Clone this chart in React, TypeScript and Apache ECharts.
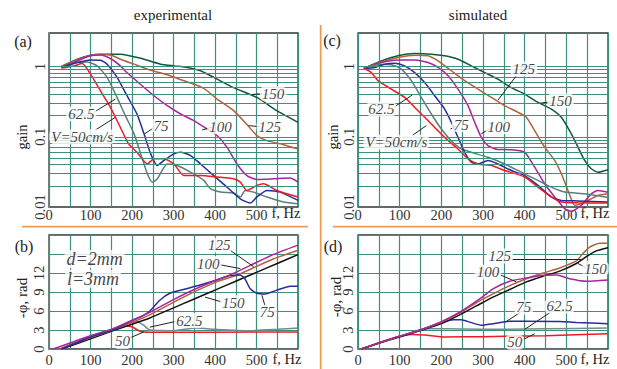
import React, { useEffect, useRef } from 'react';
import * as echarts from 'echarts';

const FONT = 'Liberation Serif';
const C_RED = '#ec1c24';
const C_BLUE = '#2a2a9c';
const C_MAG = '#a8259f';
const C_BROWN = '#b3613c';
const C_DGREEN = '#0d5a3c';
const C_GRAY = '#57807a';
const C_BLACK = '#111111';
const C_GRAY2 = '#6f8f89';
const GRID = '#3d9080';
const FRAME = '#2b3a37';
const ORANGE = '#f39c4d';

type P = [number, number];

// (a) experimental gain
const EXP_GAIN_150: P[] = [[30,1.0],[68,1.27],[100,1.45],[124,1.5],[172,1.5],[221,1.31],[269,1.08],[301,1.02],[333,0.97],[365,0.87],[397,0.7],[445,0.5],[501,0.363],[549,0.235],[600,0.16]];
const EXP_GAIN_125: P[] = [[30,1.0],[68,1.25],[100,1.43],[124,1.48],[150,1.45],[172,1.27],[205,1.08],[245,0.887],[285,0.762],[325,0.626],[365,0.515],[381,0.452],[405,0.344],[445,0.235],[477,0.149],[501,0.104],[525,0.088],[565,0.077],[600,0.067]];
const EXP_GAIN_100: P[] = [[30,0.97],[68,1.2],[100,1.42],[124,1.46],[150,1.28],[172,1.02],[188,0.82],[220,0.56],[253,0.384],[285,0.277],[317,0.211],[349,0.17],[381,0.129],[405,0.104],[429,0.071],[453,0.041],[477,0.028],[501,0.0247],[541,0.0252],[581,0.0258],[600,0.0226]];
const EXP_GAIN_75: P[] = [[30,0.97],[68,1.14],[100,1.24],[124,1.23],[140,1.08],[164,0.7],[188,0.384],[212,0.211],[229,0.11],[245,0.057],[261,0.039],[277,0.046],[301,0.057],[317,0.06],[341,0.054],[365,0.041],[397,0.028],[429,0.0192],[461,0.0131],[485,0.0114],[501,0.0139],[525,0.0172],[557,0.0163],[600,0.0124]];
const EXP_GAIN_62: P[] = [[30,0.97],[68,1.14],[92,1.16],[116,1.02],[140,0.7],[164,0.363],[184,0.2],[205,0.11],[221,0.057],[237,0.0297],[249,0.0226],[261,0.0252],[285,0.041],[309,0.039],[341,0.0313],[373,0.0239],[389,0.0182],[413,0.0163],[445,0.0158],[461,0.0139],[473,0.0172],[493,0.0163],[525,0.0139],[565,0.0118],[600,0.0111]];
const EXP_GAIN_50: P[] = [[30,0.95],[60,1.02],[80,1.1],[100,0.78],[124,0.45],[148,0.262],[168,0.152],[192,0.079],[212,0.06],[237,0.041],[253,0.0485],[277,0.0485],[301,0.041],[325,0.028],[365,0.028],[405,0.0267],[445,0.0252],[461,0.0226],[477,0.0172],[501,0.0203],[517,0.0214],[549,0.0172],[600,0.0139]];

// (c) simulated gain
const SIM_GAIN_150: P[] = [[14,0.94],[56,1.2],[96,1.42],[136,1.53],[176,1.5],[208,1.42],[240,1.27],[272,1.02],[304,0.82],[336,0.66],[368,0.5],[400,0.405],[432,0.308],[464,0.248],[488,0.189],[512,0.11],[528,0.071],[544,0.046],[560,0.035],[576,0.0313],[600,0.034]];
const SIM_GAIN_125: P[] = [[14,0.94],[56,1.16],[96,1.34],[136,1.45],[168,1.42],[192,1.2],[224,0.87],[256,0.63],[288,0.477],[320,0.363],[352,0.277],[384,0.223],[404,0.189],[424,0.122],[448,0.071],[472,0.046],[488,0.0297],[504,0.0172],[520,0.0106],[536,0.0111],[560,0.0131],[576,0.0146],[600,0.0154]];
const SIM_GAIN_100: P[] = [[14,0.94],[56,1.14],[96,1.24],[136,1.24],[168,1.14],[192,0.97],[216,0.74],[240,0.477],[264,0.277],[280,0.161],[296,0.098],[312,0.075],[336,0.0658],[368,0.0654],[400,0.06],[424,0.0369],[448,0.0214],[472,0.0139],[496,0.0095],[512,0.0087],[536,0.0106],[560,0.0154],[576,0.0172],[600,0.0162]];
const SIM_GAIN_75: P[] = [[14,0.94],[40,0.97],[64,1.08],[88,1.11],[112,1.02],[136,0.82],[160,0.59],[184,0.384],[208,0.248],[224,0.161],[240,0.098],[256,0.06],[272,0.0435],[288,0.041],[312,0.046],[336,0.041],[368,0.0331],[400,0.028],[432,0.0203],[464,0.0139],[488,0.0124],[528,0.0122],[600,0.0118]];
const SIM_GAIN_62: P[] = [[14,0.94],[56,1.08],[80,1.06],[104,0.92],[128,0.63],[152,0.363],[176,0.211],[200,0.129],[224,0.088],[248,0.067],[272,0.06],[312,0.051],[352,0.041],[392,0.0313],[432,0.0239],[464,0.0192],[496,0.0163],[544,0.0154],[600,0.0137]];
const SIM_GAIN_50: P[] = [[14,0.94],[32,0.82],[48,0.63],[80,0.477],[112,0.363],[144,0.235],[176,0.152],[208,0.098],[240,0.067],[264,0.0485],[288,0.041],[320,0.039],[352,0.0331],[400,0.0267],[432,0.0192],[464,0.0139],[488,0.0118],[528,0.0115],[600,0.0114]];

// (b) experimental phase
const EXP_PH_150: P[] = [[30,0],[100,1.6],[150,2.8],[200,3.9],[243,4.9],[300,6.5],[350,7.9],[400,9.3],[450,10.7],[500,12.1],[550,13.5],[600,14.9]];
const EXP_PH_125: P[] = [[25,0],[100,1.8],[150,2.9],[200,4.2],[243,5.4],[324,8.2],[404,10.6],[450,11.6],[485,12.6],[540,14.2],[600,15.6]];
const EXP_PH_100: P[] = [[10,0],[100,2.1],[150,3.1],[200,4.5],[243,5.8],[300,7.8],[350,9.4],[404,10.9],[436,11.7],[485,13.2],[540,14.9],[600,16.4]];
const EXP_PH_75: P[] = [[30,0],[100,1.9],[150,2.9],[200,4.5],[225,5.2],[243,6.0],[267,7.7],[291,8.8],[324,9.4],[364,10.1],[404,10.9],[436,11.6],[460,11.7],[472,11.1],[485,9.5],[501,8.8],[521,8.7],[549,9.3],[582,9.9],[600,9.9]];
const EXP_PH_62: P[] = [[30,0],[100,2.0],[150,3.1],[190,4.0],[211,4.4],[227,3.8],[243,3.0],[300,2.9],[355,3.3],[404,3.1],[485,2.9],[550,3.1],[600,3.3]];
const EXP_PH_50: P[] = [[30,0.1],[100,1.9],[150,2.9],[180,3.65],[200,3.5],[219,2.8],[243,2.65],[400,2.65],[600,2.7]];

// (d) simulated phase
const SIM_PH_150: P[] = [[8,0],[50,0.9],[100,1.9],[150,2.9],[200,4.0],[244,5.4],[284,6.8],[324,8.2],[364,9.4],[404,10.6],[444,11.5],[484,12.3],[524,13.5],[548,14.6],[572,15.5],[600,16.0]];
const SIM_PH_125: P[] = [[8,0],[50,0.95],[100,2.0],[150,3.0],[200,4.2],[244,5.7],[284,7.3],[324,8.7],[364,10.0],[404,11.1],[444,12.0],[484,12.8],[524,13.9],[540,15.1],[556,16.1],[580,16.7],[600,16.7]];
const SIM_PH_100: P[] = [[8,0],[50,0.95],[100,2.0],[150,3.0],[200,4.3],[244,5.8],[292,7.9],[324,9.5],[364,10.7],[404,11.2],[444,11.65],[476,11.7],[508,11.1],[548,10.7],[600,10.9]];
const SIM_PH_75: P[] = [[8,0],[50,0.95],[100,2.0],[150,3.0],[200,4.2],[230,4.6],[248,4.6],[270,4.2],[296,3.75],[324,4.0],[364,4.4],[404,4.4],[484,4.35],[524,4.2],[600,4.0]];
const SIM_PH_62: P[] = [[8,0],[50,0.95],[100,2.0],[140,2.9],[170,3.2],[250,3.15],[350,3.1],[450,3.2],[600,3.3]];
const SIM_PH_50: P[] = [[8,0],[50,1.0],[100,2.0],[128,2.3],[160,2.2],[208,1.9],[300,1.95],[352,2.0],[450,2.1],[600,2.4]];

const GAIN_GRID_VALUES = [0.02,0.03,0.04,0.05,0.06,0.07,0.08,0.09,0.1,0.2,0.3,0.4,0.5,0.6,0.7,0.8,0.9,1];

type Ann = { text: string; at: P; from?: P; to?: P; size?: number };
const ANNOT_A: Ann[] = [
  { text: '150', at: [540, 0.41], from: [489, 0.40], to: [514, 0.41] },
  { text: '125', at: [532, 0.139], from: [481, 0.144], to: [509, 0.139] },
  { text: '100', at: [413, 0.139], from: [369, 0.125], to: [392, 0.136] },
  { text: '75', at: [270, 0.144], from: [230, 0.11], to: [254, 0.136] },
  { text: '62.5', at: [78, 0.211], from: [108, 0.223], to: [160, 0.344] },
  { text: 'V=50cm/s', at: [80, 0.1], from: [112, 0.125], to: [160, 0.189] },
];
const ANNOT_C: Ann[] = [
  { text: '125', at: [398, 0.92], from: [380, 0.74], to: [336, 0.333] },
  { text: '150', at: [486, 0.326], from: [436, 0.30], to: [464, 0.315] },
  { text: '100', at: [338, 0.139], from: [296, 0.11], to: [318, 0.133] },
  { text: '75', at: [248, 0.149], from: [222, 0.129], to: [236, 0.142] },
  { text: '62.5', at: [56, 0.248], from: [88, 0.268], to: [130, 0.392] },
  { text: 'V=50cm/s', at: [92, 0.0836], from: [130, 0.104], to: [164, 0.144] },
];
const ANNOT_B: Ann[] = [
  { text: '125', at: [410, 16.4], from: [434, 15.7], to: [493, 13.0] },
  { text: '100', at: [384, 13.5], from: [412, 13.3], to: [461, 12.7] },
  { text: '150', at: [444, 7.3], from: [376, 8.2], to: [418, 7.4] },
  { text: '75', at: [526, 5.8], from: [521, 6.7], to: [513, 8.5] },
  { text: '62.5', at: [338, 4.5], from: [243, 3.45], to: [305, 4.35] },
  { text: '50', at: [177, 1.2], from: [195, 1.75], to: [229, 2.7] },
  { text: 'd=2mm', at: [110, 14.2], size: 18 },
  { text: 'l=3mm', at: [106, 11.1], size: 18 },
];
const ANNOT_D: Ann[] = [
  { text: '125', at: [340, 14.7], from: [369, 14.1], to: [536, 14.1] },
  { text: '150', at: [570, 12.7], from: [528, 13.5], to: [548, 12.8] },
  { text: '100', at: [312, 12.1], from: [340, 11.75], to: [380, 10.6] },
  { text: '75', at: [398, 6.6], from: [356, 4.35], to: [390, 5.8] },
  { text: '62.5', at: [484, 6.8], from: [400, 3.1], to: [462, 5.8] },
  { text: '50', at: [376, 1.06], from: [396, 1.5], to: [424, 2.4] },
];

function curve(data: P[], color: string, g: number, clip = true) {
  return {
    type: 'line', xAxisIndex: g, yAxisIndex: g, data, showSymbol: false, symbol: 'none',
    smooth: 0.2, clip, silent: true, z: 3,
    lineStyle: { color, width: 1.5 }, itemStyle: { color },
  };
}

function annots(g: number, items: Ann[]) {
  return {
    type: 'scatter', xAxisIndex: g, yAxisIndex: g, symbolSize: 0, silent: true, z: 10,
    data: items.map((a) => ({
      value: a.at, name: a.text,
      ...(a.size ? { label: { fontSize: a.size } } : {}),
    })),
    label: {
      show: true, position: 'inside', formatter: (p: any) => p.name,
      fontFamily: FONT, fontStyle: 'italic', fontSize: 15, color: '#111',
      backgroundColor: '#fff', padding: [0, 2], borderRadius: 5,
    },
    markLine: {
      silent: true, symbol: ['none', 'none'], label: { show: false },
      lineStyle: { color: '#222', width: 1, type: 'solid' },
      data: items.filter((a) => a.from && a.to).map((a) => [{ coord: a.from }, { coord: a.to }]),
    },
  };
}

function gainGridSeries(g: number) {
  return {
    type: 'line', xAxisIndex: g, yAxisIndex: g, data: [[0, 1]], showSymbol: false, symbol: 'none',
    silent: true, z: 1, lineStyle: { width: 0 },
    markLine: {
      silent: true, symbol: ['none', 'none'], label: { show: false },
      lineStyle: { color: GRID, width: 1.2, type: 'solid' },
      data: GAIN_GRID_VALUES.map((v) => ({ yAxis: v })),
    },
  };
}

const GRIDS = [
  { left: 49, top: 33, width: 249, height: 174 },
  { left: 358, top: 33, width: 250, height: 174 },
  { left: 49, top: 235, width: 249, height: 114 },
  { left: 358, top: 235, width: 250, height: 114 },
];

function xAxis(g: number, margin: number) {
  return {
    type: 'value', gridIndex: g, min: 0, max: 600, interval: 50,
    axisLine: { show: false }, axisTick: { show: false },
    splitLine: { show: true, lineStyle: { color: GRID, width: 1.2 } },
    axisLabel: {
      margin, fontFamily: FONT, fontSize: 14.5, color: '#333',
      formatter: (v: number) => (v % 100 === 0 && v <= 500 ? String(v) : ''),
    },
  };
}

function logYAxis(g: number) {
  return {
    type: 'log', logBase: 10, gridIndex: g, min: 0.01, max: 3,
    axisLine: { show: false }, axisTick: { show: false }, splitLine: { show: false },
    axisLabel: {
      rotate: 90, margin: 2, fontFamily: FONT, fontSize: 14.5, color: '#333',
      formatter: (v: number) => {
        const l = Math.log10(v);
        return Math.abs(l - Math.round(l)) < 1e-6 && l <= 0 ? String(Number(v.toPrecision(3))) : '';
      },
    },
  };
}

function phaseYAxis(g: number) {
  return {
    type: 'value', gridIndex: g, min: 0, max: 18, interval: 3,
    axisLine: { show: false }, axisTick: { show: false },
    splitLine: { show: true, lineStyle: { color: GRID, width: 1.2 } },
    axisLabel: {
      rotate: 90, margin: 3, fontFamily: FONT, fontSize: 14.5, color: '#333',
      formatter: (v: number) => (v <= 12 ? String(v) : ''),
    },
  };
}

function txt(text: string, x: number, y: number, opts: any = {}) {
  return {
    type: 'text', x, y, rotation: opts.rot || 0, silent: true, z: 20,
    style: {
      text, fill: '#222', fontFamily: FONT, fontSize: opts.size || 15,
      fontStyle: opts.italic ? 'italic' : 'normal',
      align: 'center', verticalAlign: 'middle', textAlign: 'center', textVerticalAlign: 'middle',
    },
  };
}

function orangeLine(x1: number, y1: number, x2: number, y2: number) {
  return { type: 'line', silent: true, shape: { x1, y1, x2, y2 }, style: { stroke: ORANGE, lineWidth: 1.8 } };
}

export default function App() {
  const ref = useRef<HTMLDivElement>(null);
  useEffect(() => {
    if (!ref.current) return;
    const chart = echarts.init(ref.current, undefined, { renderer: 'svg' });
    const option: any = {
      animation: false,
      backgroundColor: '#fff',
      textStyle: { fontFamily: FONT },
      grid: GRIDS.map((g) => ({ ...g, show: true, borderColor: FRAME, borderWidth: 1.3, backgroundColor: 'transparent', containLabel: false, outerBoundsMode: 'none' })),
      xAxis: [xAxis(0, 0), xAxis(1, 0), xAxis(2, 3), xAxis(3, 3)],
      yAxis: [logYAxis(0), logYAxis(1), phaseYAxis(2), phaseYAxis(3)],
      series: [
        gainGridSeries(0),
        gainGridSeries(1),
        curve(EXP_GAIN_150, C_DGREEN, 0),
        curve(EXP_GAIN_125, C_BROWN, 0),
        curve(EXP_GAIN_100, C_MAG, 0),
        curve(EXP_GAIN_62, C_GRAY, 0),
        curve(EXP_GAIN_75, C_BLUE, 0),
        curve(EXP_GAIN_50, C_RED, 0),
        curve(SIM_GAIN_150, C_DGREEN, 1, false),
        curve(SIM_GAIN_125, C_BROWN, 1, false),
        curve(SIM_GAIN_100, C_MAG, 1, false),
        curve(SIM_GAIN_62, C_GRAY, 1, false),
        curve(SIM_GAIN_75, C_BLUE, 1, false),
        curve(SIM_GAIN_50, C_RED, 1, false),
        curve(EXP_PH_62, C_GRAY2, 2),
        curve(EXP_PH_50, C_RED, 2),
        curve(EXP_PH_150, C_BLACK, 2),
        curve(EXP_PH_125, C_BROWN, 2),
        curve(EXP_PH_75, C_BLUE, 2),
        curve(EXP_PH_100, C_MAG, 2),
        curve(SIM_PH_62, C_GRAY2, 3),
        curve(SIM_PH_50, C_RED, 3),
        curve(SIM_PH_75, C_BLUE, 3),
        curve(SIM_PH_150, C_BLACK, 3),
        curve(SIM_PH_125, C_BROWN, 3),
        curve(SIM_PH_100, C_MAG, 3),
        annots(0, ANNOT_A),
        annots(1, ANNOT_C),
        annots(2, ANNOT_B),
        annots(3, ANNOT_D),
      ],
      graphic: [
        orangeLine(22, 226.7, 308, 226.7),
        orangeLine(333, 226.7, 617, 226.7),
        orangeLine(320.7, 25, 320.7, 369),
        txt('experimental', 173, 15),
        txt('simulated', 478, 15),
        txt('(a)', 23, 41, { size: 16 }),
        txt('(c)', 332, 40, { size: 16 }),
        txt('(b)', 24, 246, { size: 16 }),
        txt('(d)', 333, 246, { size: 16 }),
        txt('gain', 22, 137, { rot: Math.PI / 2, size: 14.5 }),
        txt('gain', 333, 137, { rot: Math.PI / 2, size: 14.5 }),
        txt('-φ, rad', 22, 298, { rot: Math.PI / 2 }),
        txt('-φ, rad', 336, 297, { rot: Math.PI / 2 }),
        txt('f, Hz', 286, 213, { size: 14.5 }),
        txt('f, Hz', 595, 213, { size: 14.5 }),
        txt('f, Hz', 287, 359, { size: 14.5 }),
        txt('f, Hz', 595, 359, { size: 14.5 }),
      ],
    };
    chart.setOption(option);
    return () => chart.dispose();
  }, []);
  return <div ref={ref} style={{ position: 'absolute', left: 0, top: 0, width: 617, height: 369 }} />;
}
